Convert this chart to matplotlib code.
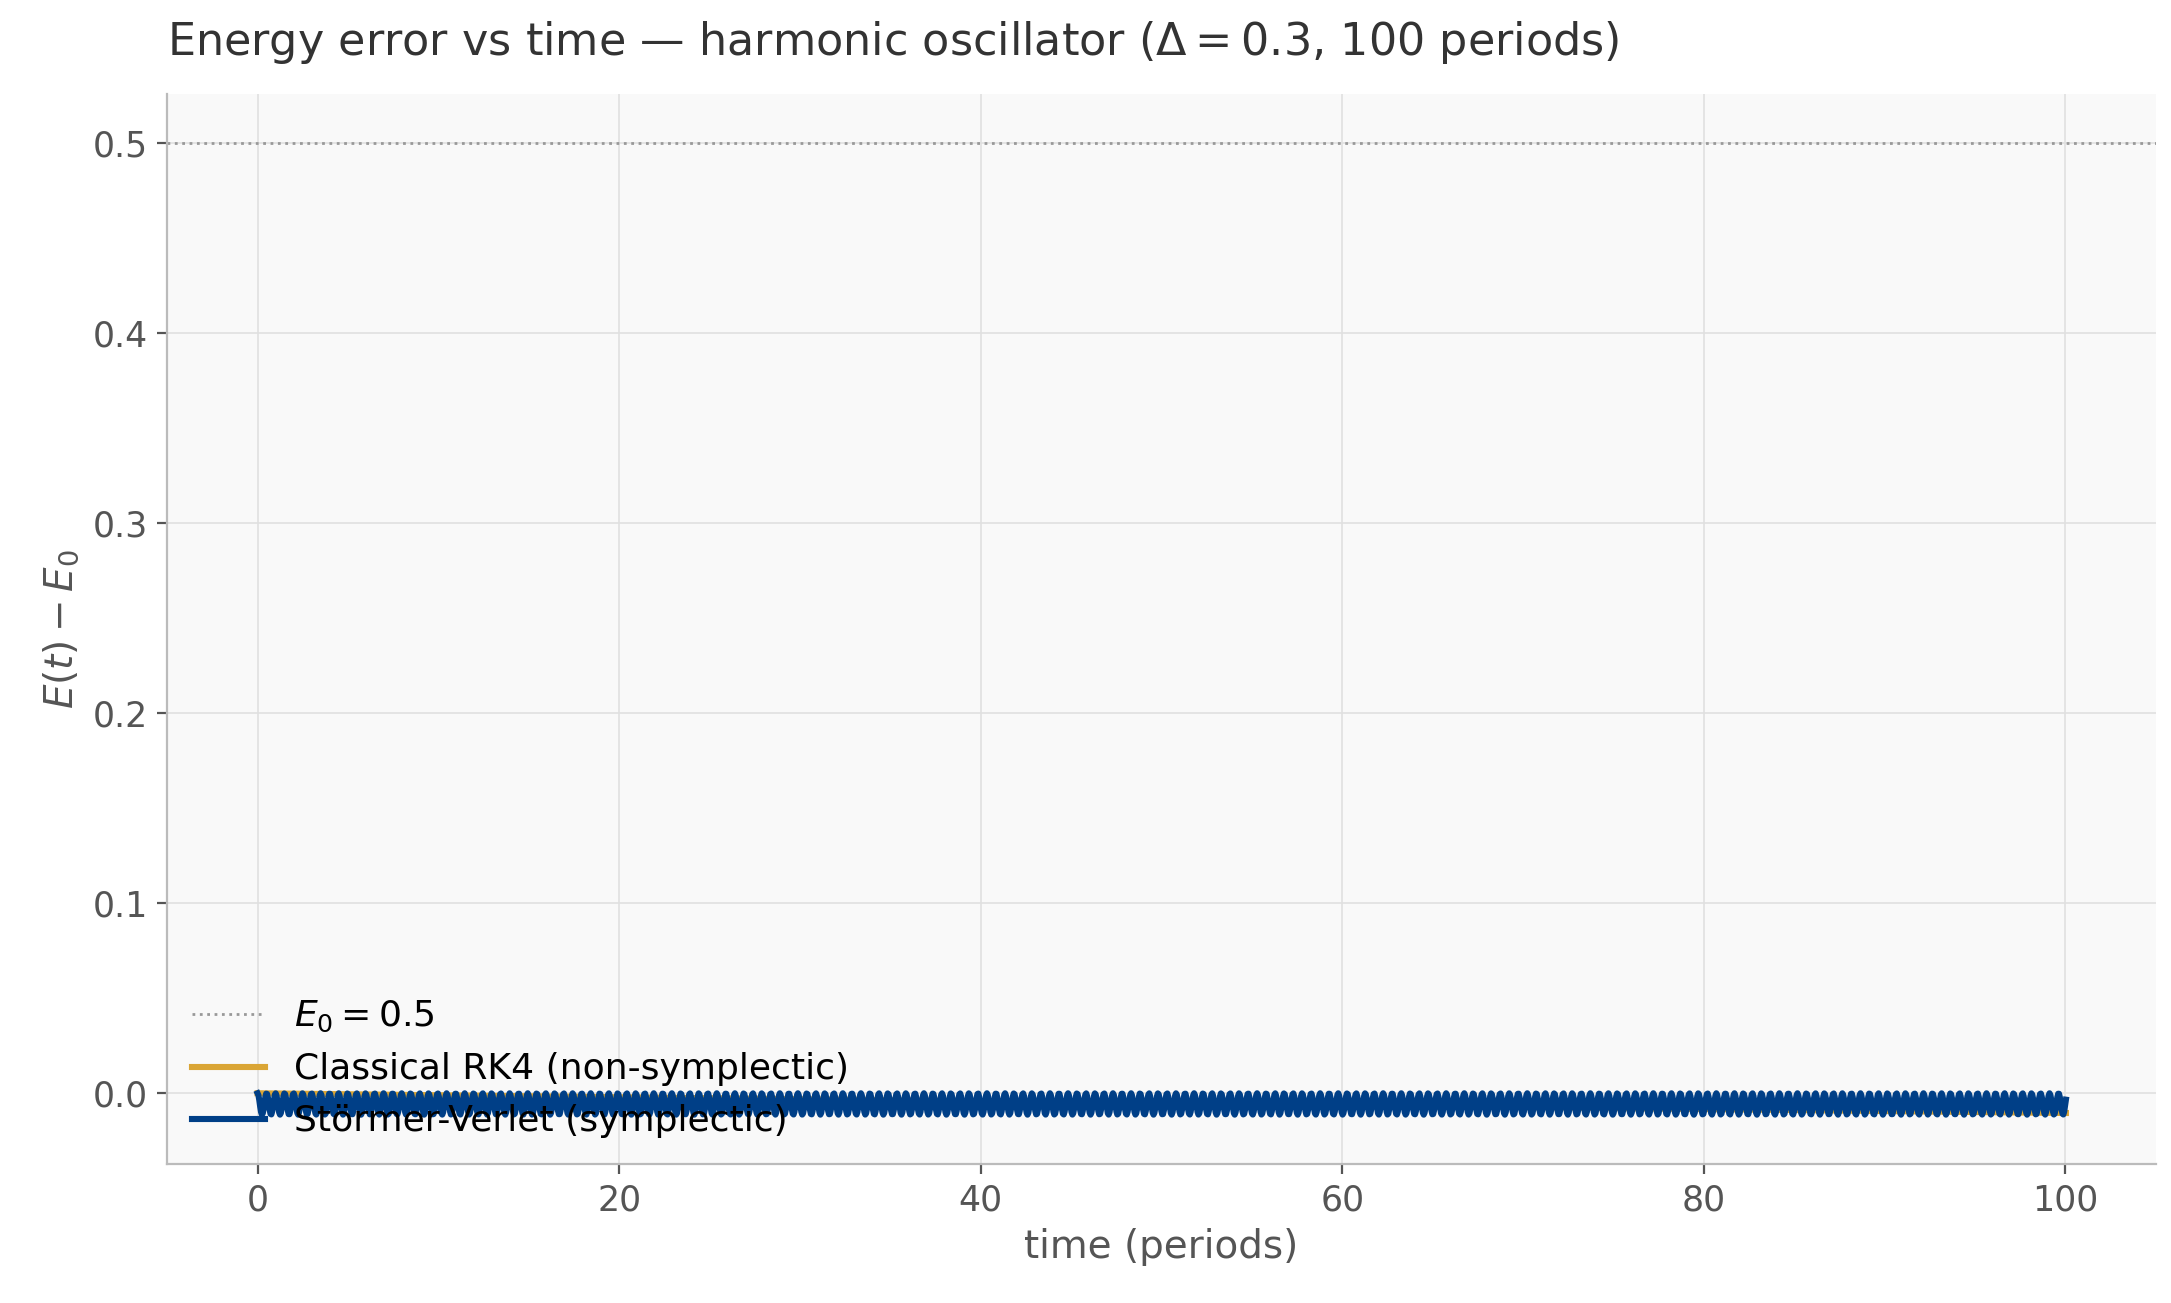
import numpy as np
import matplotlib
matplotlib.use("Agg")
import matplotlib.pyplot as plt

dt = 0.3
n_periods = 100
E0 = 0.5
x0, v0 = 1.0, 0.0

T = 2*np.pi
nsteps = int(np.ceil(n_periods*T/dt))

def f(x, v):
    return v, -x

# RK4
xr, vr = [x0], [v0]
x, v = x0, v0
for _ in range(nsteps):
    k1 = f(x, v)
    k2 = f(x+dt/2*k1[0], v+dt/2*k1[1])
    k3 = f(x+dt/2*k2[0], v+dt/2*k2[1])
    k4 = f(x+dt*k3[0], v+dt*k3[1])
    x = x + dt/6*(k1[0]+2*k2[0]+2*k3[0]+k4[0])
    v = v + dt/6*(k1[1]+2*k2[1]+2*k3[1]+k4[1])
    xr.append(x); vr.append(v)
xr, vr = np.array(xr), np.array(vr)

# Stormer-Verlet
xs, vs = [x0], [v0]
x, v = x0, v0
for _ in range(nsteps):
    vh = v - dt/2*x
    x = x + dt*vh
    v = vh - dt/2*x
    xs.append(x); vs.append(v)
xs, vs = np.array(xs), np.array(vs)

t = np.arange(nsteps+1)*dt/T
err_rk4 = 0.5*(xr**2+vr**2) - E0
err_sv = 0.5*(xs**2+vs**2) - E0

fig, ax = plt.subplots(figsize=(10.855, 6.515), dpi=200)
fig.subplots_adjust(left=0.077, right=0.993, top=0.928, bottom=0.107)
ax.set_facecolor("#f9f9f9")
ax.axhline(E0, color="#999999", ls=":", lw=1.0, label=r"$E_0 = 0.5$")
ax.plot(t, err_rk4, color="#DAA535", lw=2.2, label="Classical RK4 (non-symplectic)")
ax.plot(t, err_sv, color="#003F87", lw=2.2, label="Störmer-Verlet (symplectic)")
ax.grid(True, color="#e0e0e0", lw=0.6)
for s in ["top", "right"]:
    ax.spines[s].set_visible(False)
for s in ["left", "bottom"]:
    ax.spines[s].set_color("#bbbbbb")
ax.tick_params(colors="#555555", labelsize=12.5)
ax.set_xlabel("time (periods)", fontsize=14, color="#555555")
ax.set_ylabel(r"$E(t) - E_0$", fontsize=14, color="#555555")
ax.set_title(r"Energy error vs time — harmonic oscillator ($\Delta = 0.3$, 100 periods)",
             fontsize=16, color="#333333", loc="left", x=0.0, pad=14)
ax.set_xlim(-5, 105)
ax.set_ylim(-0.037, 0.526)
ax.legend(loc="lower left", frameon=False, fontsize=13, borderaxespad=0.3)
fig.savefig("out.png")
